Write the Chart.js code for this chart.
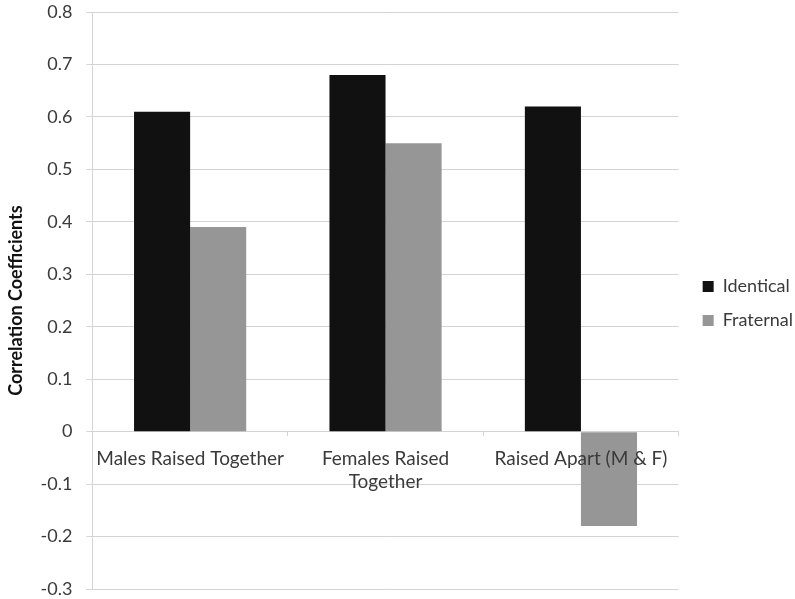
<!DOCTYPE html>
<html>
<head>
<meta charset="utf-8">
<script src="https://cdn.jsdelivr.net/npm/chart.js@4/dist/chart.umd.min.js"></script>
<style>
  html, body { margin: 0; padding: 0; background: #fff; }
  #wrap { width: 795px; height: 599px; }
</style>
</head>
<body>
<div id="wrap"><canvas id="c" width="795" height="599"></canvas></div>
<script>
const categories = [
  ['Males Raised Together'],
  ['Females Raised', 'Together'],
  ['Raised Apart (M & F)']
];
const identical = [0.61, 0.68, 0.62];
const fraternal = [0.39, 0.55, -0.18];
const yTicks = [0.8, 0.7, 0.6, 0.5, 0.4, 0.3, 0.2, 0.1, 0, -0.1, -0.2, -0.3];

const FONT = 'Lato, "Open Sans", sans-serif';
const TEXT = '#3a3a3a';
const GRID = '#d4d4d4';

// Leave a wider gap between the plot area and the legend keys.
const legendGap = {
  id: 'legendGap',
  afterLayout(chart) {
    const lg = chart.legend;
    if (!lg) return;
    const dx = chart.chartArea.right + 8 - lg.left;
    lg.left += dx;
    lg.right += dx;
    lg.top += 3;
    lg.bottom += 3;
  }
};

new Chart(document.getElementById('c'), {
  type: 'bar',
  data: {
    labels: categories,
    datasets: [
      { label: 'Identical', data: identical, backgroundColor: '#111111',
        categoryPercentage: 0.574, barPercentage: 1.0 },
      { label: 'Fraternal', data: fraternal, backgroundColor: '#969696',
        categoryPercentage: 0.574, barPercentage: 1.0 }
    ]
  },
  plugins: [legendGap],
  options: {
    responsive: false,
    animation: false,
    layout: { padding: { top: 12, right: 0, bottom: 10, left: 5 } },
    plugins: {
      legend: {
        position: 'right',
        align: 'center',
        labels: {
          font: { family: FONT, size: 18 },
          color: TEXT,
          boxWidth: 11,
          boxHeight: 11,
          padding: 16
        }
      },
      tooltip: { enabled: false }
    },
    scales: {
      x: {
        position: { y: 0 },
        grid: { drawOnChartArea: false, drawTicks: true, tickLength: 4, color: GRID, offset: true },
        border: { display: true, color: GRID },
        ticks: { z: 1, font: { family: FONT, size: 19 }, color: TEXT, padding: 12, maxRotation: 0 }
      },
      y: {
        min: -0.3,
        max: 0.8,
        afterBuildTicks: (axis) => { axis.ticks = yTicks.map(v => ({ value: v })); },
        afterFit: (axis) => { axis.paddingTop = 0; axis.paddingBottom = 0; },
        grid: { color: GRID, tickLength: 6 },
        border: { display: true, color: GRID },
        ticks: {
          font: { family: FONT, size: 18 },
          color: TEXT,
          padding: 14,
          callback: (v) => (Math.round(v * 10) / 10).toString()
        },
        title: {
          display: true,
          text: 'Correlation Coefficients',
          font: { family: FONT, size: 18, weight: 'bold' },
          color: '#111',
          padding: { top: 0, bottom: 0 }
        }
      }
    }
  }
});
</script>
</body>
</html>
